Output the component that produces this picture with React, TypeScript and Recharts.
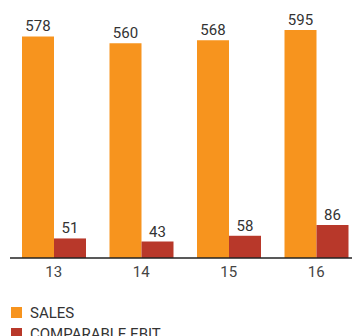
import React from 'react'
import { BarChart, Bar, XAxis, YAxis, LabelList } from 'recharts'

// yearly figures, MEUR
const years = ['13', '14', '15', '16']
const sales = [578, 560, 568, 595]
const comparableEbit = [51, 43, 58, 86]

const seriesNames = ['SALES', 'COMPARABLE EBIT']
const colors = ['#F7941E', '#B8382A']

const data = years.map((year, i) => ({
    year,
    sales: sales[i],
    ebit: comparableEbit[i],
}))

const font = 'Roboto, "DejaVu Sans", sans-serif'

export default function App() {
    return (
        <div style={{ position: 'absolute', left: 0, top: 0, width: 352, height: 336, overflow: 'hidden', background: '#fff', fontFamily: font }}>
            <BarChart
                width={360}
                height={336}
                data={data}
                margin={{ top: 28, right: 0, left: 10, bottom: 48 }}
                barGap={0}
                barSize={32}
            >
                <YAxis hide domain={[0, 600]} />
                <XAxis
                    dataKey="year"
                    height={30}
                    tickLine={false}
                    axisLine={{ stroke: '#222', strokeWidth: 1.5 }}
                    tick={{ fill: '#444', fontSize: 15, fontFamily: font }}
                />
                <Bar dataKey="sales" fill={colors[0]} isAnimationActive={false}>
                    <LabelList dataKey="sales" position="top" offset={5} style={{ fill: '#333', fontSize: 15, fontFamily: font }} />
                </Bar>
                <Bar dataKey="ebit" fill={colors[1]} isAnimationActive={false}>
                    <LabelList dataKey="ebit" position="top" offset={5} style={{ fill: '#333', fontSize: 15, fontFamily: font }} />
                </Bar>
            </BarChart>
            <div style={{ position: 'absolute', left: 11, top: 302 }}>
                {seriesNames.map((name, i) => (
                    <div key={name} style={{ display: 'flex', alignItems: 'center', height: 21, color: '#333', fontSize: 15 }}>
                        <span style={{ width: 11, height: 11, background: colors[i], marginRight: 8 }} />
                        {name}
                    </div>
                ))}
            </div>
        </div>
    )
}
